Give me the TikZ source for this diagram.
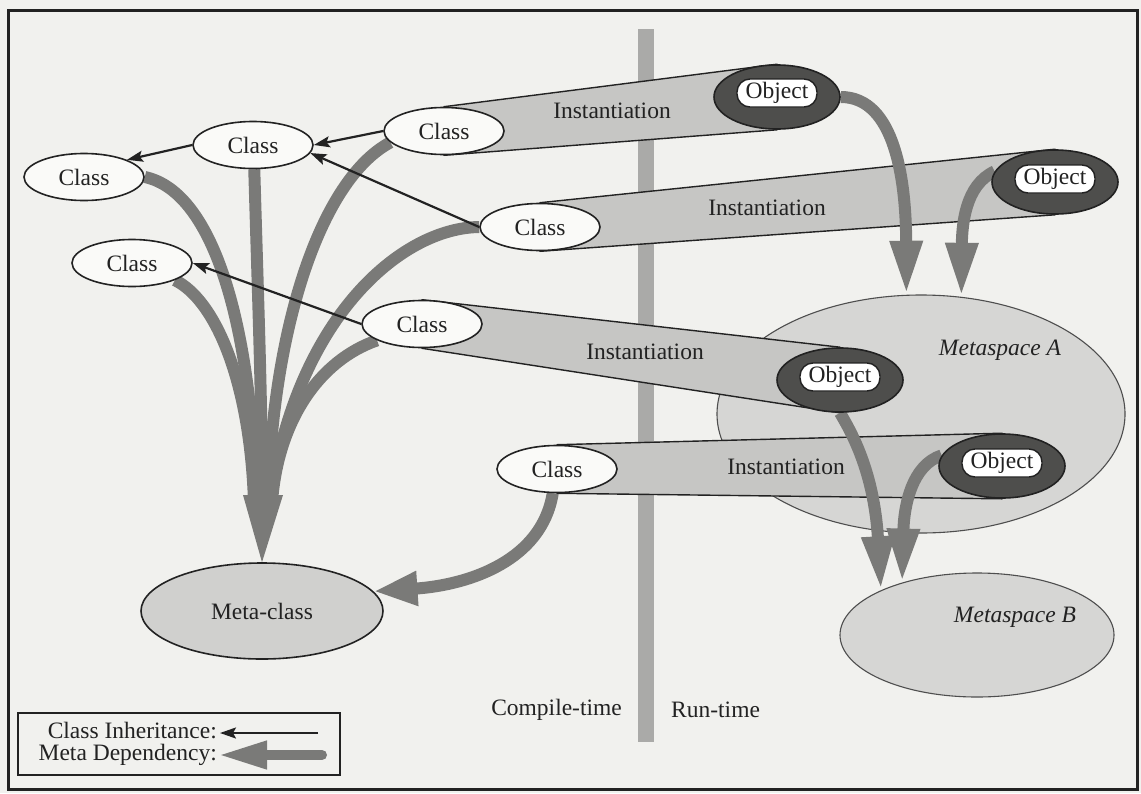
\documentclass[tikz,border=0pt]{standalone}
\usepackage{fontspec}
\setmainfont{Liberation Serif}
\usetikzlibrary{shapes.geometric,arrows.meta}
\pgfdeclarelayer{bg}
\pgfdeclarelayer{bands}
\pgfdeclarelayer{links}
\pgfsetlayers{bg,bands,links,main}

\definecolor{paper}{RGB}{241,241,238}
\definecolor{ink}{RGB}{34,34,34}
\definecolor{bandgray}{RGB}{198,198,196}
\definecolor{spacegray}{RGB}{214,214,212}
\definecolor{mcgray}{RGB}{208,208,206}
\definecolor{metagray}{RGB}{122,122,120}
\definecolor{bargray}{RGB}{170,170,168}
\definecolor{objdark}{RGB}{78,78,76}
\definecolor{classfill}{RGB}{250,250,248}

\tikzset{
  lbl/.style={font=\fontsize{23.5}{26}\selectfont, text=ink, inner sep=0pt},
  keytext/.style={font=\fontsize{23.5}{25}\selectfont, text=ink, inner sep=0pt,
    text height=15pt, text depth=5pt},
  classnode/.style={ellipse, draw=ink, line width=1.6pt, fill=classfill,
    minimum width=120pt, minimum height=47pt, inner sep=0pt, lbl},
  metaclass/.style={ellipse, draw=ink, line width=1.6pt, fill=mcgray,
    minimum width=242pt, minimum height=96pt, inner sep=0pt, lbl},
  space/.style={ellipse, draw=ink!80, line width=1.1pt, fill=spacegray, inner sep=0pt},
  objouter/.style={ellipse, draw=ink, line width=1.6pt, fill=objdark,
    minimum width=126pt, minimum height=64pt, inner sep=0pt},
  objinner/.style={rectangle, rounded corners=13pt, draw=ink, line width=1.4pt,
    fill=white, minimum width=80pt, minimum height=28pt, lbl},
  band/.style={fill=bandgray, draw=ink, line width=1.4pt, line join=round},
  metashaft/.style={draw=metagray, line width=12pt},
  metaarrow/.style={metashaft, -{Triangle[length=54pt,width=30pt]}},
  inherit/.style={draw=ink, line width=2.2pt, -{Stealth[length=16pt,width=11pt,inset=3pt]}},
}

\begin{document}
\begin{tikzpicture}[x=1pt,y=-1pt]
\useasboundingbox (0,0) rectangle (1141,793);

% ---------- paper, time divider and metaspaces ----------
\begin{pgfonlayer}{bg}
  \fill[paper] (0,0) rectangle (1141,793);
  \fill[bargray] (638,29) rectangle (654,742);
  \node[space, minimum width=408pt, minimum height=238pt] (msA) at (921,414) {};
  \node[space, minimum width=274pt, minimum height=124pt] (msB) at (977,635) {};
\end{pgfonlayer}

% ---------- classes ----------
\node[classnode] (cA) at (84,177) {Class};
\node[classnode] (cB) at (253,145) {Class};
\node[classnode] (cC) at (444,131) {Class};
\node[classnode] (cD) at (132,263) {Class};
\node[classnode] (cE) at (540,227) {Class};
\node[classnode] (cF) at (422,324) {Class};
\node[classnode] (cG) at (557,469) {Class};
\node[metaclass] (mc) at (262,611) {Meta-class};

% ---------- objects ----------
\node[objouter] (o1) at (777,97) {};
\node[objinner] (o1t) at ([yshift=4pt]o1.center) {Object};
\node[objouter] (o2) at (1055,182) {};
\node[objinner] (o2t) at ([yshift=3pt]o2.center) {Object};
\node[objouter] (o3) at (840,380) {};
\node[objinner] (o3t) at ([yshift=3pt]o3.center) {Object};
\node[objouter] (o4) at (1002,466) {};
\node[objinner] (o4t) at ([yshift=3pt]o4.center) {Object};

\node[lbl, font=\fontsize{23.5}{26}\selectfont\itshape] (msAl) at (1000,350) {Metaspace A};
\node[lbl, font=\fontsize{23.5}{26}\selectfont\itshape] (msBl) at (1015,617) {Metaspace B};

\node[lbl, anchor=east] (ct) at (622,710) {Compile-time};
\node[lbl, anchor=west] (rt) at (671,710) {Run-time};

% ---------- instantiation bands ----------
\begin{pgfonlayer}{bands}
  \draw[band] (cC.north) -- (o1.north) -- (o1.south) -- (cC.south) -- cycle;
  \draw[band] (cE.north) -- (o2.north) -- (o2.south) -- (cE.south) -- cycle;
  \draw[band] (cF.north) -- (o3.north) -- (o3.south) -- (cF.south) -- cycle;
  \draw[band] (cG.north) -- (o4.north) -- (o4.south) -- (cG.south) -- cycle;
  \node[lbl] (i1) at (612,111) {Instantiation};
  \node[lbl] (i2) at (767,208) {Instantiation};
  \node[lbl] (i3) at (645,352) {Instantiation};
  \node[lbl] (i4) at (786,467) {Instantiation};
\end{pgfonlayer}

% ---------- dependencies and inheritance ----------
\begin{pgfonlayer}{links}
  % class-level meta dependencies gathered into one head
  \coordinate (hub) at (263,495);
  \coordinate (h1) at (256,502);
  \coordinate (h2) at (262,502);
  \coordinate (h3) at (268,502);
  \coordinate (h4) at (254,502);
  \coordinate (h5) at (270,502);
  \coordinate (h6) at (272,502);
  \draw[metashaft] (cA.east) .. controls (215,192) and (252,330) .. (h1);
  \draw[metashaft] (cB.-87) .. controls (258,300) and (262,400) .. (h2);
  \draw[metashaft] (cC.-168) .. controls (320,180) and (272,330) .. (h3);
  \draw[metashaft] (cD.south east) .. controls (215,300) and (250,380) .. (h4);
  \draw[metashaft] (cE.west) .. controls (400,228) and (295,320) .. (h5);
  \draw[metashaft] (cF.200) .. controls (320,360) and (278,420) .. (h6);
  \fill[metagray] (hub) ++(-20,0) -- ++(40,0) -- (mc.north) -- cycle;

  \draw[metashaft, -{Triangle[length=44pt,width=32pt]}]
    (cG.-100) .. controls (542,560) and (470,585) .. (mc.10);

  % object-level meta dependencies
  \draw[metaarrow] (o1.east) .. controls (895,97) and (906,180) .. (msA.97);
  \draw[metaarrow] (o2.170) .. controls (965,185) and (962,225) .. (msA.71);
  \draw[metaarrow] (o3.south) .. controls (850,430) and (874,470) .. (msB.155);
  \draw[metaarrow] (o4.170) .. controls (912,465) and (904,505) .. (msB.145);

  % class inheritance
  \draw[inherit] (cB.west) -- (cA.north east);
  \draw[inherit] (cC.west) -- (cB.east);
  \draw[inherit] (cE.west) -- (cB.-8);
  \draw[inherit] (cF.west) -- (cD.east);
\end{pgfonlayer}

% ---------- legend ----------
\node[draw=ink, line width=1.3pt, minimum width=322pt, minimum height=62pt, inner sep=0pt] (legend) at (179,744) {};
\node[keytext, anchor=east] (lci) at (217,733) {Class Inheritance:};
\node[keytext, anchor=east] (lmd) at (217,755) {Meta Dependency:};
\coordinate (la1) at (318,733);
\coordinate (la2) at (322,755);
\draw[inherit] (la1) -- ([xshift=3pt]lci.east);
\draw[draw=metagray, line width=10pt, line cap=round, -{Triangle[length=49pt,width=26pt]}]
  (la2) -- ([xshift=1pt]lmd.east);

% ---------- frame ----------
\draw[ink, line width=3pt] (8,10) rectangle (1137,789);
\end{tikzpicture}
\end{document}
